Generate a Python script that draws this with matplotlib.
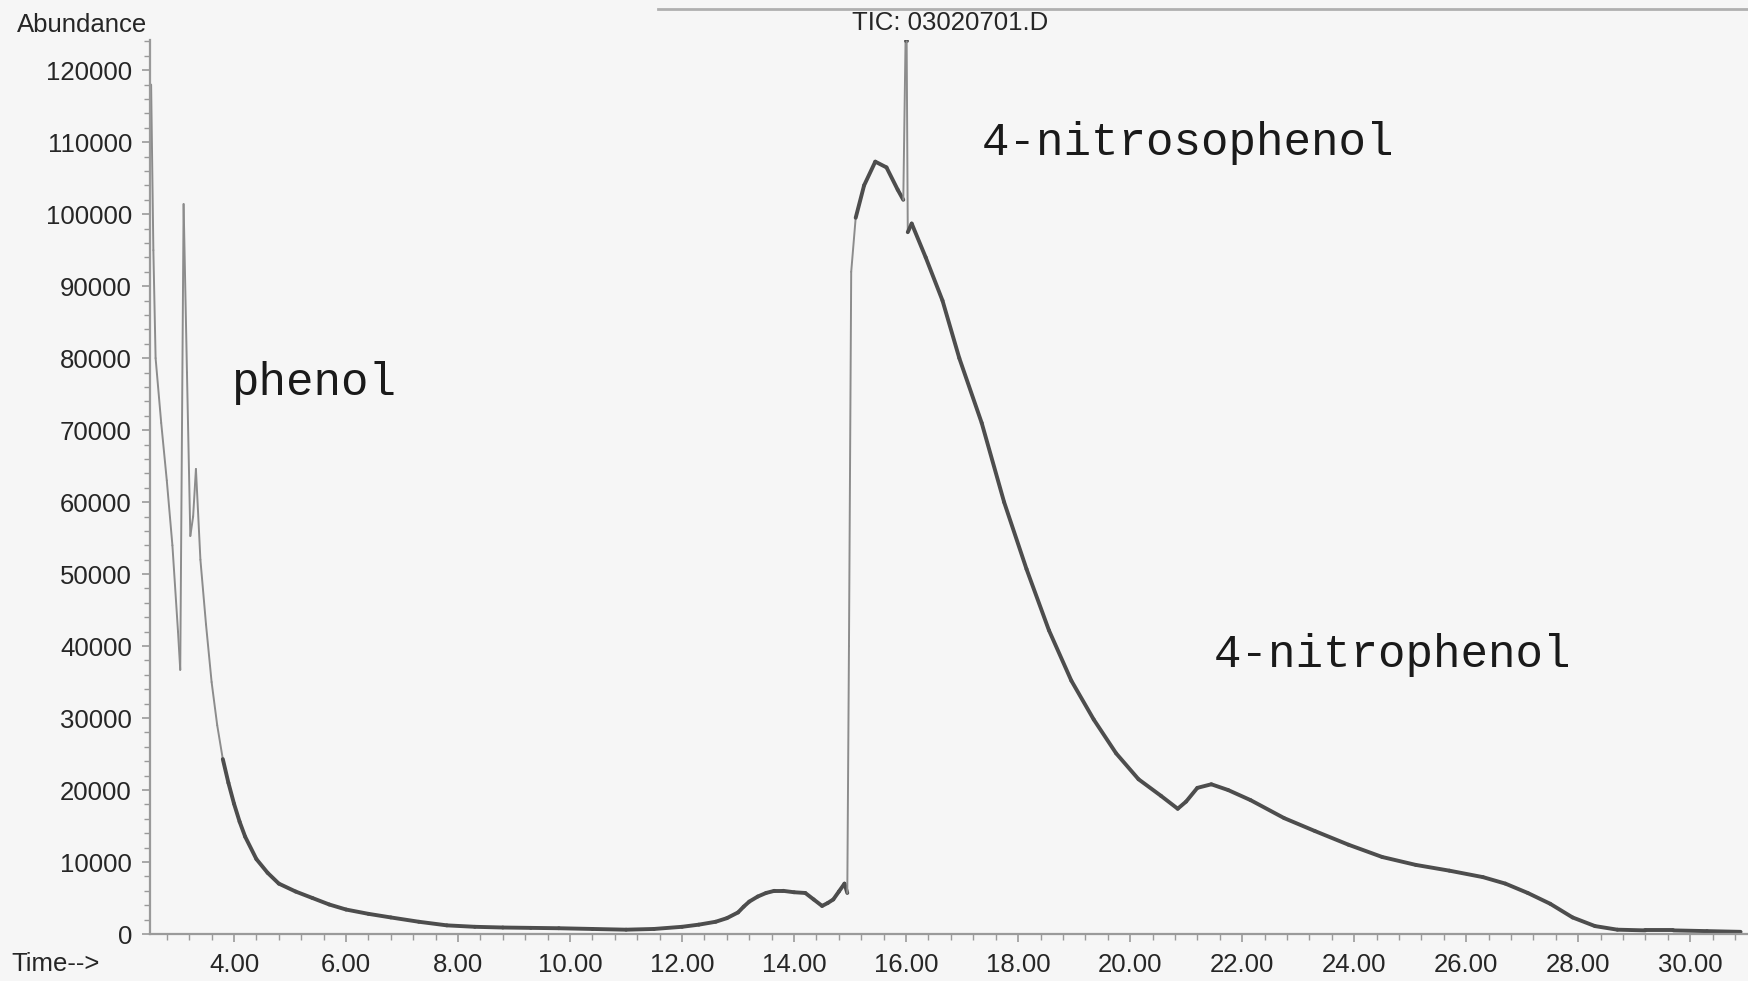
import numpy as np
import matplotlib.pyplot as plt
from matplotlib.collections import LineCollection
from matplotlib.ticker import MultipleLocator, FormatStrFormatter

# TIC trace: retention time (min) and abundance
time_min = [2.52, 2.56, 2.60, 2.70, 2.80, 2.90, 3.00, 3.04, 3.10, 3.16, 3.22, 3.27,
            3.32, 3.40, 3.50, 3.60, 3.70, 3.80, 3.90, 4.00, 4.10, 4.20, 4.40, 4.60,
            4.80, 5.10, 5.40, 5.70, 6.00, 6.40, 6.80, 7.30, 7.80, 8.30, 8.80, 9.30,
            9.80, 10.40, 11.00, 11.50, 12.00, 12.30, 12.60, 12.80, 13.00, 13.10,
            13.20, 13.35, 13.50, 13.65, 13.80, 14.00, 14.20, 14.35, 14.50, 14.60,
            14.70, 14.80, 14.90, 14.95, 14.98, 15.02, 15.10, 15.25, 15.45, 15.65,
            15.85, 15.95, 15.99, 16.01, 16.03, 16.10, 16.35, 16.65, 16.95, 17.35,
            17.75, 18.15, 18.55, 18.95, 19.35, 19.75, 20.15, 20.55, 20.85, 21.00,
            21.20, 21.45, 21.75, 22.15, 22.75, 23.30, 23.90, 24.50, 25.10, 25.70,
            26.30, 26.70, 27.10, 27.50, 27.90, 28.30, 28.70, 29.20, 29.70, 30.30,
            30.90]
abundance = [118000, 95000, 80000, 71000, 63000, 54000, 42000, 36700, 101400, 78000,
             55300, 58000, 64600, 52000, 43000, 35000, 29000, 24300, 21000, 18100,
             15600, 13500, 10400, 8500, 7000, 5900, 5000, 4100, 3400, 2800, 2300,
             1700, 1200, 1000, 900, 850, 800, 700, 600, 700, 1000, 1300, 1700, 2200,
             3000, 3800, 4500, 5200, 5700, 6000, 6000, 5800, 5700, 4800, 3900, 4300,
             4800, 5900, 7000, 5700, 40000, 92000, 99500, 104000, 107300, 106500,
             103400, 102000, 124000, 124000, 97500, 98700, 94000, 88000, 80000,
             71000, 60000, 50700, 42200, 35200, 29800, 25100, 21500, 19200, 17400,
             18400, 20300, 20800, 20000, 18600, 16100, 14300, 12400, 10700, 9600,
             8800, 7900, 7000, 5700, 4200, 2300, 1100, 600, 500, 500, 400, 300]

y_ticks = list(range(0, 120001, 10000))
x_ticks = [4, 6, 8, 10, 12, 14, 16, 18, 20, 22, 24, 26, 28, 30]

mono = 'Liberation Mono'
sans = 'Liberation Sans'
ink = '#262626'
axis_grey = '#9a9a9a'

fig = plt.figure(figsize=(17.49, 9.81), dpi=100, facecolor='#f6f6f6')
ax = fig.add_axes([150 / 1749, 1 - 934 / 981, 1 - 150 / 1749, (934 - 40) / 981])
ax.set_facecolor('none')
ax.set_xlim(2.5, 31.05)
ax.set_ylim(0, 124200)

# steep strokes print thin and pale, the slow noisy baseline prints dark and heavy
t = np.array(time_min)
a = np.array(abundance)
pts = np.column_stack([t, a])
segs = np.stack([pts[:-1], pts[1:]], axis=1)
px_per_min = 1599 / (31.05 - 2.5)
px_per_count = 894 / 124200
steep = np.abs(np.diff(a)) * px_per_count > 6 * np.diff(t) * px_per_min
widths = np.where(steep, 1.4, 2.8)
colors = np.where(steep, '#8c8c8c', '#4d4d4d')
lc = LineCollection(segs, linewidths=widths, colors=list(colors), capstyle='round',
                    joinstyle='round')
ax.add_collection(lc)

for side in ['top', 'right']:
    ax.spines[side].set_visible(False)
for side in ['left', 'bottom']:
    ax.spines[side].set_color(axis_grey)
    ax.spines[side].set_linewidth(1.6)

ax.set_xticks(x_ticks)
ax.xaxis.set_major_formatter(FormatStrFormatter('%.2f'))
ax.xaxis.set_minor_locator(MultipleLocator(0.4))
ax.set_yticks(y_ticks)
ax.yaxis.set_minor_locator(MultipleLocator(2000))

ax.tick_params(axis='both', which='major', length=6, width=1.2, color=axis_grey,
               labelsize=18.5, labelcolor=ink)
ax.tick_params(axis='both', which='minor', length=4, width=1.0, color=axis_grey)
ax.tick_params(axis='x', which='major', pad=8)
ax.tick_params(axis='y', which='major', pad=7)
for lab in ax.get_xticklabels() + ax.get_yticklabels():
    lab.set_family(sans)

# compound labels
ax.text(3.94, 76600, 'phenol', family=mono, fontsize=33, color='#1a1a1a',
        ha='left', va='center')
ax.text(17.35, 109900, '4-nitrosophenol', family=mono, fontsize=33, color='#1a1a1a',
        ha='left', va='center')
ax.text(21.49, 38800, '4-nitrophenol', family=mono, fontsize=33, color='#1a1a1a',
        ha='left', va='center')

fig.text(17 / 1749, 1 - 25 / 981, 'Abundance', family=sans, fontsize=18.5,
         color=ink, ha='left', va='center')
fig.text(11 / 1749, 1 - 964 / 981, 'Time-->', family=sans, fontsize=18.5,
         color=ink, ha='left', va='center')
fig.text(950 / 1749, 1 - 23 / 981, 'TIC: 03020701.D', family=sans, fontsize=18.5,
         color=ink, ha='center', va='center')

# page rule along the top edge
fig.add_artist(plt.Line2D([658 / 1749, 1.0], [1 - 9 / 981, 1 - 9 / 981],
                          color='#b0b0b0', lw=2.0, transform=fig.transFigure))

fig.savefig('out.png', dpi=100, facecolor=fig.get_facecolor())
